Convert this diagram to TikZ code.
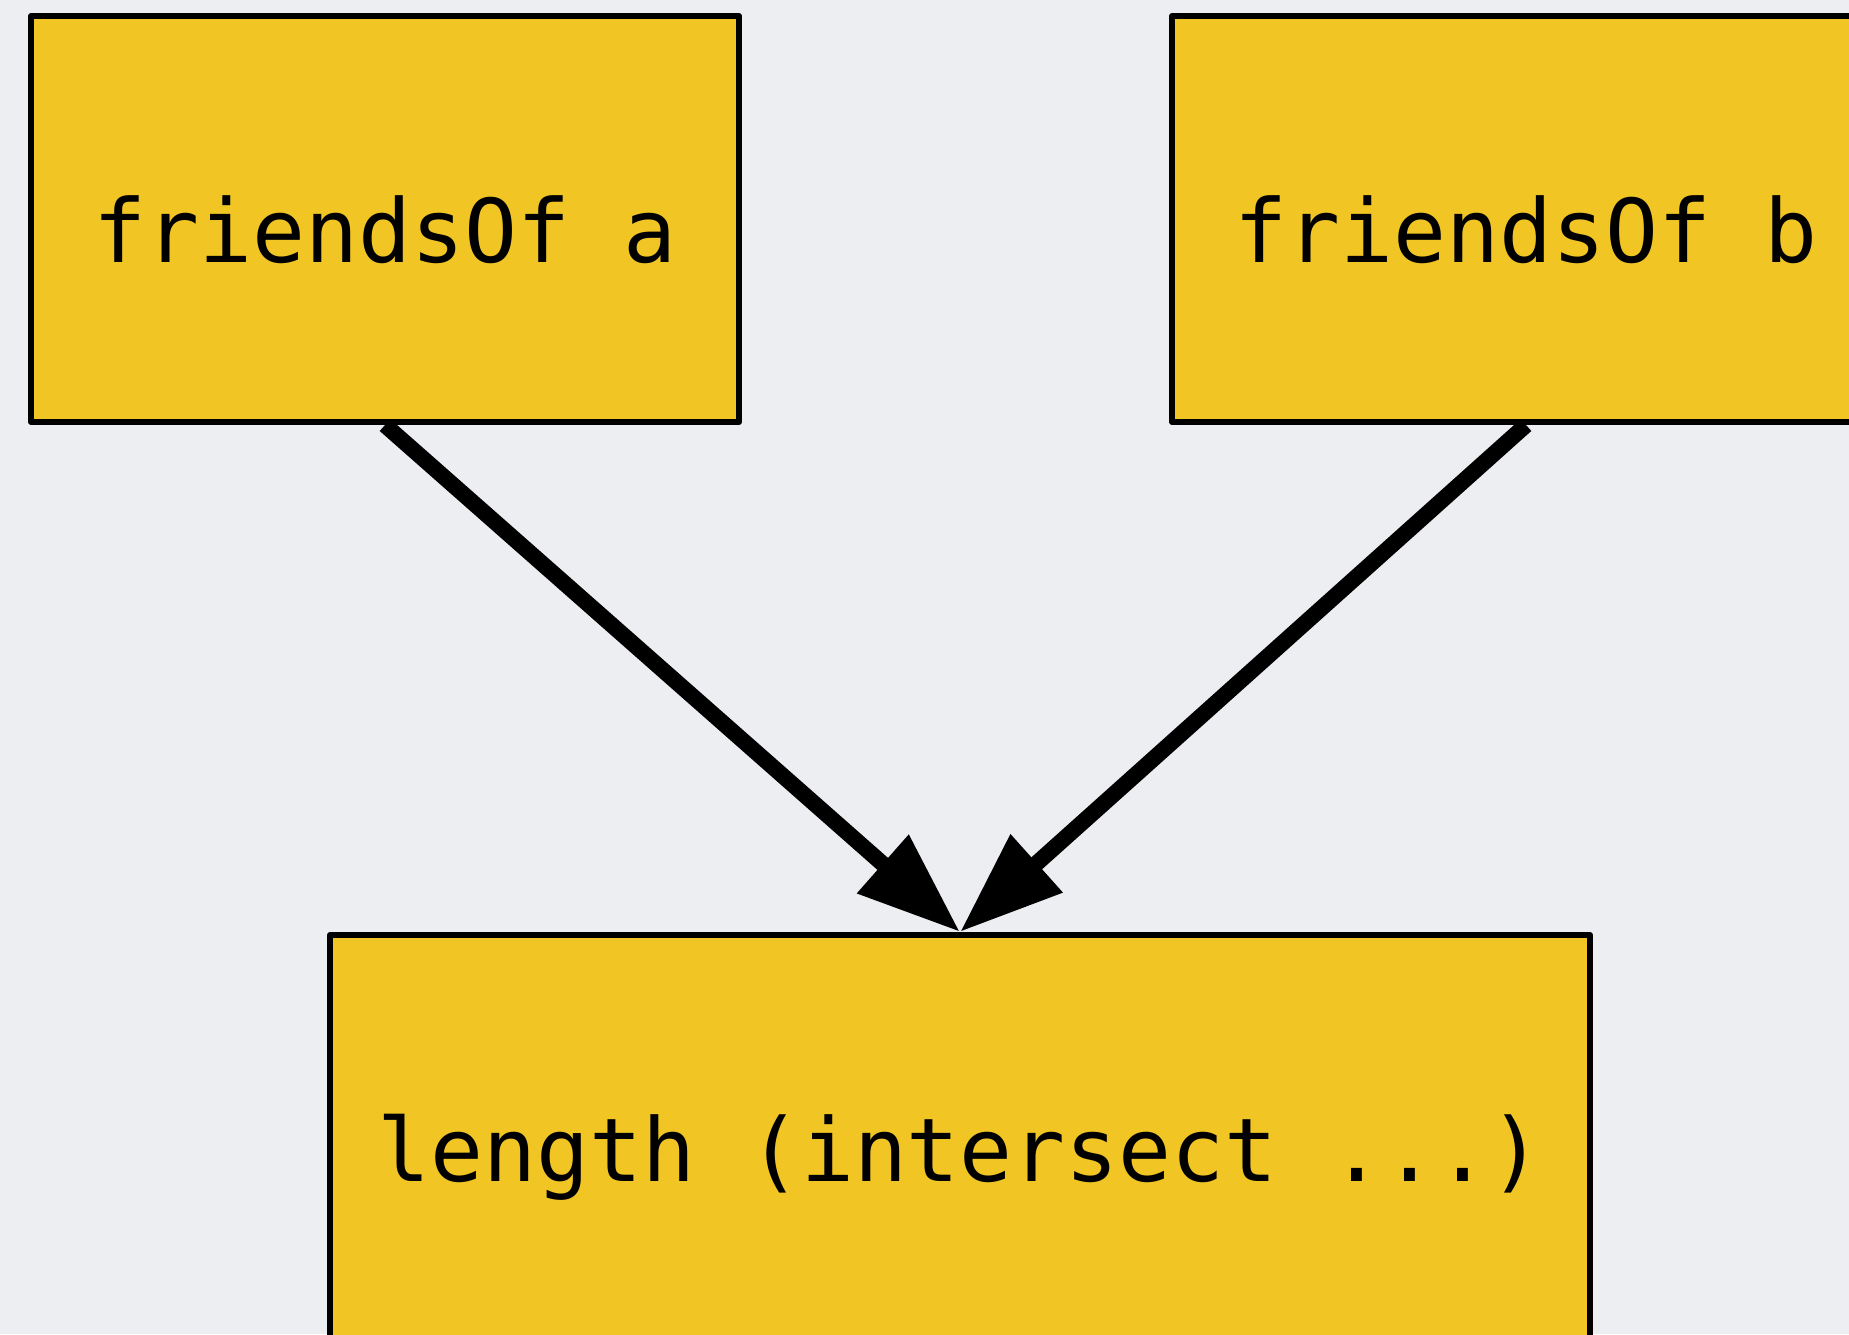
\documentclass[tikz,border=0pt]{standalone}
\usepackage{fontspec}
\usetikzlibrary{arrows.meta}
\newfontfamily\codefont{DejaVu Sans Mono}
\definecolor{canvasbg}{HTML}{EDEEF2}
\definecolor{exprfill}{HTML}{F0C524}
\begin{document}
\begin{tikzpicture}[x=1pt,y=-1pt,
  exprbox/.style={draw=black, fill=exprfill, line width=6pt, line join=round,
    minimum width=708pt, minimum height=406pt, inner sep=0pt,
    text height=106pt, text depth=20pt,
    font=\codefont\fontsize{88}{100}\selectfont},
  flow/.style={draw=black, line width=16pt,
    -{Triangle[length=103pt,width=74pt]}}]
  % canvas
  \fill[canvasbg] (0,0) rectangle (1849,1334);
  \useasboundingbox (0,0) rectangle (1849,1334);
  % expression boxes
  \node[exprbox] (fa) at (385,219) {friendsOf a};
  \node[exprbox] (fb) at (1526,219) {friendsOf b};
  \node[exprbox, minimum width=1260pt] (len) at (960,1138) {length (intersect ...)};
  % data flow
  \draw[flow] (fa.south) -- (len.north);
  \draw[flow] (fb.south) -- (len.north);
\end{tikzpicture}
\end{document}
